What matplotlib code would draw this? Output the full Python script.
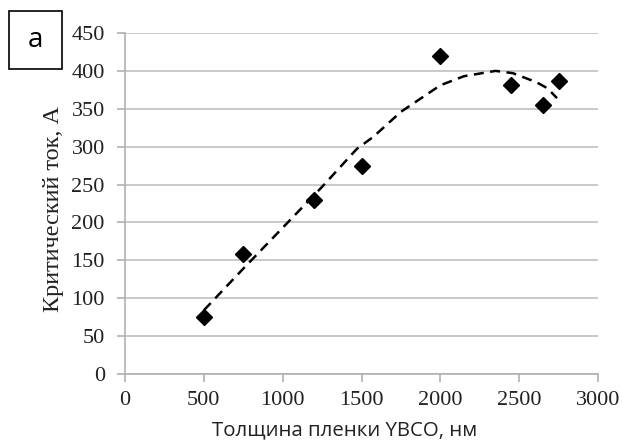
import matplotlib
matplotlib.use("Agg")
import matplotlib.pyplot as plt
from matplotlib.patches import Rectangle

# measured points
thickness = [500, 750, 1200, 1500, 2000, 2450, 2650, 2750]
current = [75, 159, 229, 274, 419, 382, 355, 386]

# dashed trend curve
trend_x = [500, 750, 1000, 1250, 1470, 1575, 1750, 2000, 2150, 2350, 2460, 2610, 2680, 2740]
trend_y = [84, 139, 193, 247, 297, 313, 346, 381, 393, 400, 397, 385, 377, 364]

xticks = [0, 500, 1000, 1500, 2000, 2500, 3000]
yticks = [0, 50, 100, 150, 200, 250, 300, 350, 400, 450]

fig = plt.figure(figsize=(6.22, 4.48), dpi=100)
ax = fig.add_axes([125/622, 1-374/448, (598-125)/622, (374-33)/448])

ax.plot(trend_x, trend_y, color="black", lw=1.8, ls=(0, (4, 2.6)), zorder=2)
ax.plot(thickness, current, ls="none", marker="D", ms=8, color="black", zorder=3)

ax.set_xlim(0, 3000)
ax.set_ylim(0, 450)
ax.set_xticks(xticks)
ax.set_yticks(yticks)
ax.yaxis.grid(True, color="#c0c0c0", lw=1.2)
ax.set_axisbelow(True)
for s in ["top", "right"]:
    ax.spines[s].set_visible(False)
for s in ["left", "bottom"]:
    ax.spines[s].set_color("#b0b0b0")
    ax.spines[s].set_linewidth(1.2)
ax.tick_params(direction="out", length=6, color="#b0b0b0", width=1.2, labelsize=16)
ax.tick_params(axis="y", pad=8.5)
ax.tick_params(axis="x", pad=6)
for lab in ax.get_xticklabels() + ax.get_yticklabels():
    lab.set_family("Liberation Serif")
    lab.set_color("#222222")

xl = ax.set_xlabel("Толщина пленки YBCO, нм", fontsize=14.7, family="Open Sans", color="#222222")
xl.set_va("center")
ax.xaxis.set_label_coords(0.465, -0.166)
yl = ax.set_ylabel("Критический ток, А", fontsize=17.5, family="Liberation Serif", color="#222222")
yl.set_va("center")
ax.yaxis.set_label_coords(-0.152, 0.484)

fig.patches.append(Rectangle((9/622, 1-69/448), 53/622, 58/448, transform=fig.transFigure,
                             fill=False, edgecolor="black", lw=1.2))
fig.text(35.5/622, 1-40/448, "a", ha="center", va="center", fontsize=20, family="Open Sans")

fig.savefig("out.png", dpi=100)
